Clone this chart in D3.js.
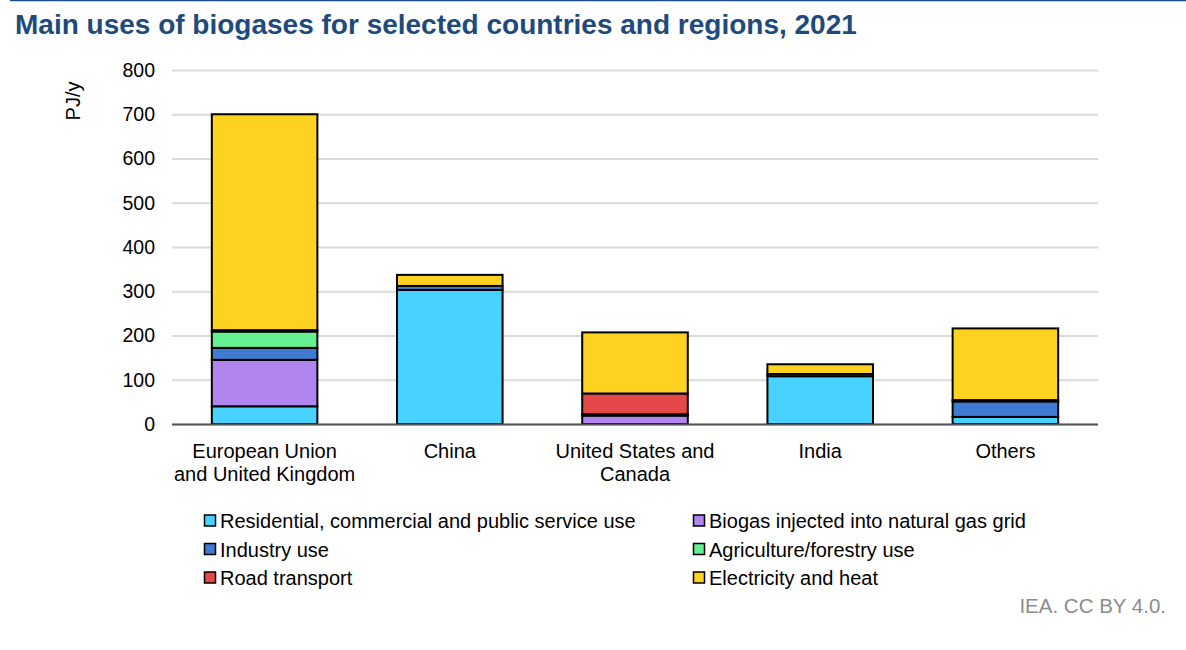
<!DOCTYPE html>
<html><head><meta charset="utf-8">
<script src="https://cdn.jsdelivr.net/npm/d3@7"></script>
<style>
body{margin:0;background:#fff;}
svg{display:block;font-family:"Liberation Sans",Arial,sans-serif;}
</style></head>
<body>
<svg id="c" width="1186" height="650"></svg>
<script>
const categories = [["European Union","and United Kingdom"],["China"],["United States and","Canada"],["India"],["Others"]];
const seriesNames = ["Residential, commercial and public service use","Biogas injected into natural gas grid","Industry use","Agriculture/forestry use","Road transport","Electricity and heat"];
const seriesColors = ["#48d2ff","#b086ee","#3f7ad3","#66f090","#e54848","#fdd221"];
const residential = [40, 303, 0, 108, 16];
const gridInjection = [105, 0, 19, 0, 0];
const industry = [27, 9, 3, 5, 35];
const agriculture = [37, 0, 0, 0, 0];
const roadTransport = [3, 0, 47, 0, 3];
const electricityHeat = [488, 25, 138, 22, 162];
const yTicks = [0,100,200,300,400,500,600,700,800];

const seriesValues = [residential, gridInjection, industry, agriculture, roadTransport, electricityHeat];
const rows = categories.map((c,i)=>{const o={idx:i}; seriesNames.forEach((s,j)=>o[s]=seriesValues[j][i]); return o;});
const stack = d3.stack().keys(seriesNames)(rows);

const svg = d3.select("#c");
const x0=172, x1=1098, yTop=70, yBot=424;
const x = d3.scaleBand().domain(d3.range(categories.length)).range([x0,x1]).paddingInner(0.43).paddingOuter(0.215);
const y = d3.scaleLinear().domain([0,800]).range([yBot,yTop]);

// top rule
svg.append("line").attr("x1",10).attr("x2",1186).attr("y1",0.5).attr("y2",0.5).attr("stroke","#1f4e8c").attr("stroke-width",1.5);
// title
svg.append("text").attr("x",15).attr("y",34).text("Main uses of biogases for selected countries and regions, 2021")
  .attr("font-size",28).attr("font-weight","bold").attr("fill","#1f4a7e");

// gridlines
const yAxis = d3.axisLeft(y).tickValues(yTicks).tickSize(-(x1-x0)).tickPadding(17).tickFormat(d3.format("d"));
const gy = svg.append("g").attr("transform",`translate(${x0},0)`).call(yAxis);
gy.select(".domain").remove();
gy.selectAll(".tick line").attr("stroke","#d9d9d9").attr("stroke-width",2);
gy.selectAll(".tick text").attr("font-size",19.5).attr("fill","#000").attr("font-family","Liberation Sans, Arial, sans-serif");

// y label
svg.append("text").attr("transform","translate(80,101) rotate(-90)").attr("text-anchor","middle")
  .attr("font-size",20).text("PJ/y");

// bars
svg.append("g").selectAll("g").data(stack).join("g").attr("fill",(d,i)=>seriesColors[i])
 .selectAll("rect").data(d=>d.filter(p=>p[1]-p[0]>0)).join("rect")
 .attr("x",d=>x(d.data.idx)).attr("width",x.bandwidth())
 .attr("y",d=>y(d[1])).attr("height",d=>y(d[0])-y(d[1]))
 .attr("stroke","#000").attr("stroke-width",2);

// x axis line
svg.append("line").attr("x1",x0).attr("x2",x1).attr("y1",yBot+0.5).attr("y2",yBot+0.5).attr("stroke","#555").attr("stroke-width",2);

// category labels
const xl = svg.append("g");
categories.forEach((c,i)=>{
  const t = xl.append("text").attr("text-anchor","middle").attr("font-size",20);
  c.forEach((line,k)=>t.append("tspan").attr("x",x(i)+x.bandwidth()/2).attr("y",458+k*23).text(line));
});

// legend
const legX=[205,694], legY=[521,549.5,578];
seriesNames.forEach((s,i)=>{
  const col=i%2, row=Math.floor(i/2);
  const g=svg.append("g").attr("transform",`translate(${legX[col]},${legY[row]})`);
  g.append("rect").attr("x",-0.5).attr("y",-6).attr("width",11).attr("height",11).attr("fill",seriesColors[i]).attr("stroke","#000").attr("stroke-width",1.5);
  g.append("text").attr("x",15).attr("y",7).attr("font-size",20).text(s);
});

// source
svg.append("text").attr("x",1166).attr("y",613).attr("text-anchor","end").attr("font-size",20.5).attr("fill","#8c8c8c").text("IEA. CC BY 4.0.");
</script>
</body></html>
